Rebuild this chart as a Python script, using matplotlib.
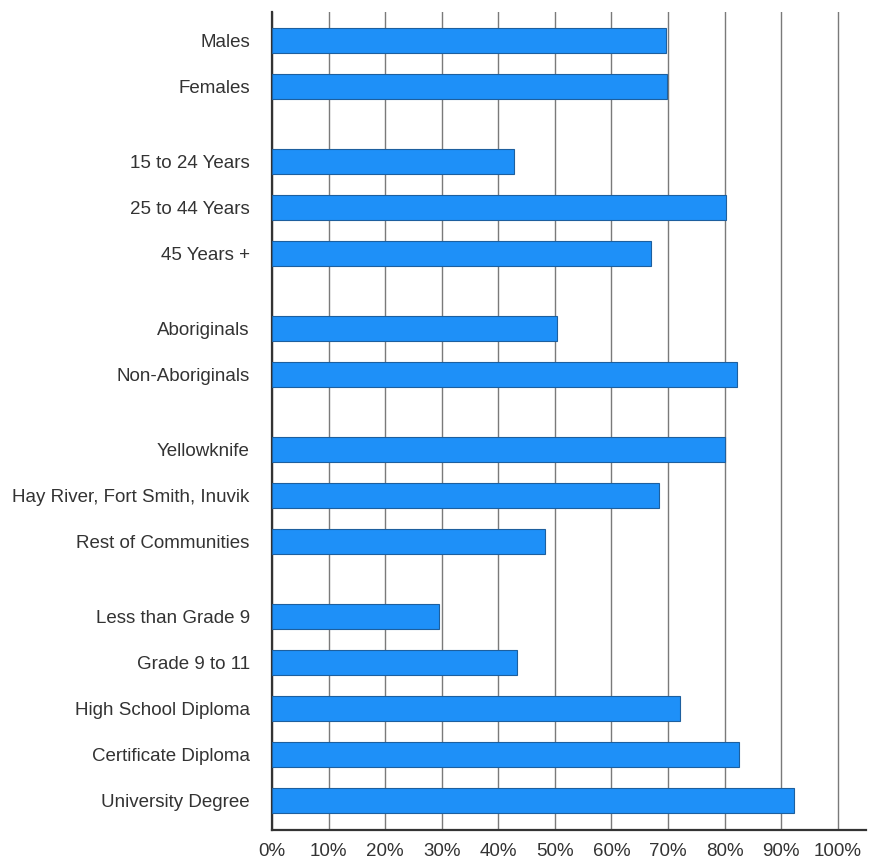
import numpy as np
import matplotlib as mpl
mpl.use('Agg')
import matplotlib.pyplot as plt

# Data: share (%) by group
groups = [
    ['Males', 'Females'],
    ['15 to 24 Years', '25 to 44 Years', '45 Years +'],
    ['Aboriginals', 'Non-Aboriginals'],
    ['Yellowknife', 'Hay River, Fort Smith, Inuvik', 'Rest of Communities'],
    ['Less than Grade 9', 'Grade 9 to 11', 'High School Diploma',
     'Certificate Diploma', 'University Degree'],
]
values = [
    [69.7, 69.8],
    [42.7, 80.3, 67.0],
    [50.3, 82.2],
    [80.0, 68.4, 48.3],
    [29.6, 43.3, 72.2, 82.6, 92.3],
]
xticks = np.arange(0, 101, 10)
xticklabels = ['%d%%' % v for v in xticks]

# Layout: bar slots with an extra gap between groups
gap = 0.63
labels, vals, ypos = [], [], []
y = 0.
for g, v in zip(groups, values):
    for lab, val in zip(g, v):
        labels.append(lab)
        vals.append(val)
        ypos.append(y)
        y += 1
    y += gap

mpl.rcParams['font.family'] = ['Liberation Sans', 'DejaVu Sans']

fig = plt.figure(figsize=(8.7, 8.61), dpi=100)
ax = fig.add_axes([272/870, 1 - 830/861, 594/870, 818/861])

ax.barh(ypos, vals, height=0.54, color='#1e90f8', edgecolor='#1d5f9e',
        linewidth=0.8, zorder=3)

ax.set_xlim(0, 105)
ax.set_ylim(ypos[-1] + 0.64, ypos[0] - 0.62)
ax.set_xticks(xticks)
ax.set_xticklabels(xticklabels, fontsize=13.5, color='#333333')
ax.set_yticks(ypos)
ax.set_yticklabels(labels, fontsize=13.5, color='#333333')
ax.tick_params(axis='y', length=0, pad=16)
ax.tick_params(axis='x', length=0, pad=9)

ax.grid(axis='x', color='#7a7a7a', lw=1.0)
ax.set_axisbelow(True)
for s in ['top', 'right']:
    ax.spines[s].set_visible(False)
ax.spines['left'].set_color('#333333')
ax.spines['left'].set_linewidth(1.6)
ax.spines['bottom'].set_color('#333333')
ax.spines['bottom'].set_linewidth(1.6)

fig.savefig('out.png', dpi=100)
